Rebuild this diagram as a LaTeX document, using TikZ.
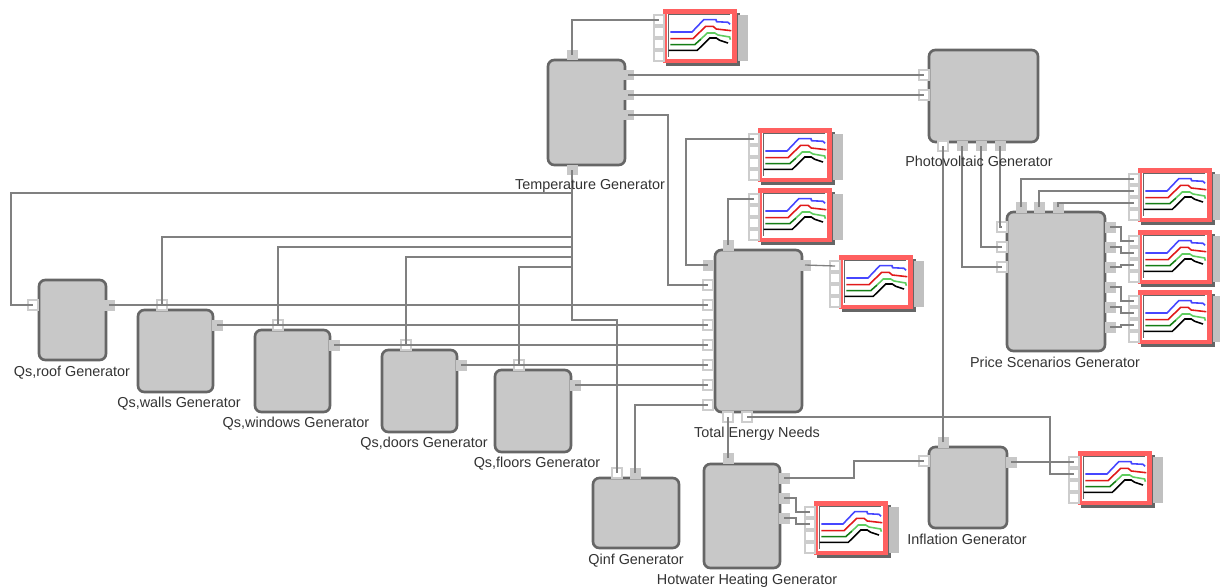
\documentclass[tikz,border=0pt]{standalone}
\usepackage{fontspec}
\setmainfont{Liberation Sans}
\usepackage{xcolor}
\usetikzlibrary{fit}
\definecolor{blockgrey}{RGB}{200,200,200}
\definecolor{blockedge}{RGB}{102,102,102}
\definecolor{portedge}{RGB}{205,205,205}
\definecolor{wiregrey}{RGB}{128,128,128}
\definecolor{framered}{RGB}{255,96,96}
\definecolor{shadegrey}{RGB}{192,192,192}
\definecolor{traceblue}{RGB}{70,70,255}
\definecolor{tracered}{RGB}{225,25,25}
\definecolor{tracegreen}{RGB}{20,125,20}
\definecolor{tracelight}{RGB}{95,205,95}
\tikzset{
    genbox/.style={draw=blockedge, fill=blockgrey, line width=1.5pt, rounded corners=3.6pt, inner sep=0pt},
    genlabel/.style={font=\fontsize{8.2}{10}\selectfont, text=black!80, inner sep=0pt, yshift=-0.04cm},
    inport/.style={draw=portedge, fill=white, line width=0.8pt, minimum size=0.2cm, inner sep=0pt},
    outport/.style={fill=blockgrey, minimum size=0.22cm, inner sep=0pt},
    wire/.style={draw=wiregrey, line width=0.75pt},
    trace/.style={line width=0.9pt},
    scopeplot/.pic={
        % ombre et cadre
        \fill[blockedge] (3,4) rectangle (77,57);
        \fill[shadegrey] (74.5,6) rectangle (85,52);
        \fill[framered] (0,0) rectangle (74,54);
        \fill[white] (4.3,4.7) rectangle (69,49.7);
        \draw[blockedge, line width=0.7pt] (67,5.5) -- (5.5,5.5) -- (5.5,48);
        % entrees
        \foreach \n/\y in {1/11, 2/23, 3/35, 4/47} {
            \node[inport] (-\n) at (-4,\y) {};
        }
        % courbes
        \draw[trace, traceblue] (7.3,23) -- (29,23) -- (40.7,10.7) -- (53,10.7) -- (53.5,12.7) -- (65,13.3) -- (67,15.3);
        \draw[trace, tracered] (7.3,29.7) -- (30,29.7) -- (42.7,17.3) -- (50,17.3) -- (53.3,20) -- (68.3,21.7);
        \draw[trace, tracegreen] (7.3,35.7) -- (31.7,35.7) -- (38,30);
        \draw[trace, tracelight] (38,30) -- (44.3,24) -- (51.7,24) -- (55,26) -- (66.7,28) -- (67.3,30.7);
        \draw[trace, black] (5.7,41.3) -- (34.3,41.3) -- (46.7,29) -- (53.3,29) -- (56.7,31.3) -- (65,34);
    }
}

\begin{document}
\begin{tikzpicture}[x=0.02cm, y=-0.02cm]
    \useasboundingbox (0,0) rectangle (1220,588);

    % --- Generateurs ---
    \node[genbox, fit={(548,60) (625,165)}] (temp) {};
    \node[genbox, fit={(929,50) (1038,142)}] (photo) {};
    \node[genbox, fit={(1007,212) (1105,351)}] (price) {};
    \node[genbox, fit={(715,250) (802,412)}] (total) {};
    \node[genbox, fit={(704,464) (780,568)}] (hot) {};
    \node[genbox, fit={(593,478) (679,548)}] (qinf) {};
    \node[genbox, fit={(929,447) (1007,528)}] (infl) {};
    \node[genbox, fit={(39,280) (106,360)}] (roof) {};
    \node[genbox, fit={(138,310) (213,392)}] (walls) {};
    \node[genbox, fit={(255,330) (330,412)}] (windows) {};
    \node[genbox, fit={(382,350) (457,432)}] (doors) {};
    \node[genbox, fit={(495,370) (571,452)}] (floors) {};

    % --- Ports ---
    \node[outport] (temp-top) at (572,55) {};
    \node[outport] (temp-bot) at (572,170) {};
    \foreach \n/\y in {1/75, 2/95, 3/115} {
        \node[outport] (temp-\n) at (628,\y) {};
    }
    \foreach \n/\y in {1/75, 2/95} {
        \node[inport] (photo-in\n) at (924,\y) {};
    }
    \node[inport] (photo-bot) at (943,146) {};
    \foreach \n/\x in {1/962, 2/981, 3/1000} {
        \node[outport] (photo-\n) at (\x,146) {};
    }
    \foreach \n/\x in {1/1021, 2/1039, 3/1058} {
        \node[outport] (price-top\n) at (\x,207) {};
    }
    \foreach \n/\y in {1/227, 2/247, 3/267} {
        \node[inport] (price-in\n) at (1002,\y) {};
    }
    \foreach \n/\y in {1/227, 2/247, 3/267, 4/287, 5/307, 6/327} {
        \node[outport] (price-\n) at (1110,\y) {};
    }
    \node[outport] (total-top) at (728,245) {};
    \node[outport] (total-left) at (708,265) {};
    \node[outport] (total-right) at (805,265) {};
    \foreach \n/\y in {1/285, 2/305, 3/325, 4/345, 5/365, 6/385, 7/405} {
        \node[inport] (total-in\n) at (708,\y) {};
    }
    \node[inport] (total-bot1) at (728,417) {};
    \node[inport] (total-bot2) at (747,417) {};
    \node[outport] (hot-top) at (728,458) {};
    \foreach \n/\y in {1/478, 2/498, 3/518} {
        \node[outport] (hot-\n) at (784,\y) {};
    }
    \node[inport] (qinf-in) at (617,473) {};
    \node[outport] (qinf-out) at (635,473) {};
    \node[inport] (infl-in) at (924,461) {};
    \node[outport] (infl-top) at (943,442) {};
    \node[outport] (infl-out) at (1011,462) {};
    \node[inport] (roof-in) at (33,305) {};
    \node[outport] (roof-out) at (109,305) {};
    \node[inport] (walls-in) at (162,305) {};
    \node[outport] (walls-out) at (217,325) {};
    \node[inport] (windows-in) at (278,325) {};
    \node[outport] (windows-out) at (334,345) {};
    \node[inport] (doors-in) at (406,345) {};
    \node[outport] (doors-out) at (461,365) {};
    \node[inport] (floors-in) at (519,365) {};
    \node[outport] (floors-out) at (575,385) {};

    % --- Scopes ---
    \pic (scopea) at (663,9) {scopeplot};
    \pic (scopeb) at (758,128) {scopeplot};
    \pic (scopec) at (758,188) {scopeplot};
    \pic (scoped) at (839,255) {scopeplot};
    \pic (scopee) at (1138,168) {scopeplot};
    \pic (scopef) at (1138,230) {scopeplot};
    \pic (scopeg) at (1138,290) {scopeplot};
    \pic (scopeh) at (814,501) {scopeplot};
    \pic (scopei) at (1078,451) {scopeplot};

    % --- Liaisons temperature ---
    \draw[wire] (temp-top.center) |- (scopea-1.center);
    \draw[wire] (temp-1.center) -- (photo-in1.center);
    \draw[wire] (temp-2.center) -- (photo-in2.center);
    \draw[wire] (temp-3.center) -| (668,285) -- (total-in1.center);
    \draw[wire] (temp-bot.center) |- (11,193) |- (roof-in.center);
    \draw[wire] (temp-bot.center) |- (162,237) -- (walls-in.center);
    \draw[wire] (temp-bot.center) |- (278,247) -- (windows-in.center);
    \draw[wire] (temp-bot.center) |- (406,257) -- (doors-in.center);
    \draw[wire] (temp-bot.center) |- (519,267) -- (floors-in.center);
    \draw[wire] (temp-bot.center) |- (617,320) -- (qinf-in.center);

    % --- Vers le total ---
    \draw[wire] (roof-out.center) -- (total-in2.center);
    \draw[wire] (walls-out.center) -- (total-in3.center);
    \draw[wire] (windows-out.center) -- (total-in4.center);
    \draw[wire] (doors-out.center) -- (total-in5.center);
    \draw[wire] (floors-out.center) -- (total-in6.center);
    \draw[wire] (qinf-out.center) |- (total-in7.center);
    \draw[wire] (scopeb-1.center) -| (686,265) -- (total-left.center);
    \draw[wire] (total-top.center) |- (scopec-1.center);
    \draw[wire] (total-right.center) -- (scoped-1.center);
    \draw[wire] (hot-top.center) -- (total-bot1.center);
    \draw[wire] (total-bot2.center) -| (1050,474) -- (scopei-2.center);

    % --- Photovoltaique et prix ---
    \draw[wire] (photo-1.center) |- (price-in3.center);
    \draw[wire] (photo-2.center) |- (price-in2.center);
    \draw[wire] (photo-3.center) |- (price-in1.center);
    \draw[wire] (infl-top.center) -- (photo-bot.center);
    \draw[wire] (price-top1.center) |- (scopee-1.center);
    \draw[wire] (price-top2.center) |- (scopee-2.center);
    \draw[wire] (price-top3.center) |- (scopee-3.center);
    \draw[wire] (price-1.center) -| (1121,241) -- (scopef-1.center);
    \draw[wire] (price-2.center) -| (1121,253) -- (scopef-2.center);
    \draw[wire] (price-3.center) -| (1121,265) -- (scopef-3.center);
    \draw[wire] (price-4.center) -| (1121,301) -- (scopeg-1.center);
    \draw[wire] (price-5.center) -| (1121,313) -- (scopeg-2.center);
    \draw[wire] (price-6.center) -| (1121,325) -- (scopeg-3.center);

    % --- Eau chaude et inflation ---
    \draw[wire] (hot-1.center) -| (854,461) -- (infl-in.center);
    \draw[wire] (hot-2.center) -| (796,512) -- (scopeh-1.center);
    \draw[wire] (hot-3.center) -| (796,524) -- (scopeh-2.center);
    \draw[wire] (infl-out.center) -- (scopei-1.center);

    % --- Etiquettes ---
    \node[genlabel] (temp-label) at (590,184) {Temperature Generator};
    \node[genlabel] (photo-label) at (979,159) {Photovoltaic Generator};
    \node[genlabel] (price-label) at (1055,360) {Price Scenarios Generator};
    \node[genlabel] (total-label) at (757,432) {Total Energy Needs};
    \node[genlabel] (hot-label) at (747,579) {Hotwater Heating Generator};
    \node[genlabel] (qinf-label) at (636,559) {Qinf Generator};
    \node[genlabel] (infl-label) at (967,537) {Inflation Generator};
    \node[genlabel] (roof-label) at (72,371) {Qs,roof Generator};
    \node[genlabel] (walls-label) at (179,402) {Qs,walls Generator};
    \node[genlabel] (windows-label) at (296,422) {Qs,windows Generator};
    \node[genlabel] (doors-label) at (424,442) {Qs,doors Generator};
    \node[genlabel] (floors-label) at (537,462) {Qs,floors Generator};
\end{tikzpicture}
\end{document}
